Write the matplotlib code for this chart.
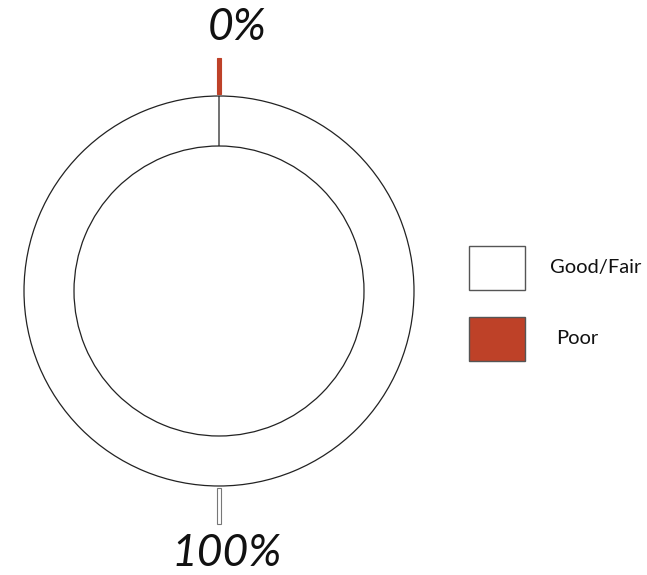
import numpy as np
import matplotlib
matplotlib.use("Agg")
import matplotlib.pyplot as plt
from matplotlib.patches import Polygon, Rectangle

# Condition shares (percent)
categories = ["Good/Fair", "Poor"]
values = [100, 0]
labels = ["100%", "0%"]
colors = ["#FFFFFF", "#BE4128"]

W, H = 647, 575
fig = plt.figure(figsize=(W / 100, H / 100), dpi=100)
ax = fig.add_axes([0, 0, 1, 1])

cx, cy = 219, 284
r_out, ring = 195, 50

wedges, _ = ax.pie(values, colors=colors, startangle=90, counterclock=False,
                   radius=r_out, center=(cx, cy),
                   wedgeprops=dict(width=ring, edgecolor="#222222", linewidth=0.9))
ax.set_xlim(0, W)
ax.set_ylim(0, H)
ax.set_aspect("equal")
ax.axis("off")

# Marker ticks and labels at each wedge's mid angle
tick_edges = ["#777777", "#BE4128"]
total = sum(values)
start = 90.0
for val, lab, col, ec in zip(values, labels, colors, tick_edges):
    sweep = 360.0 * val / total
    mid = np.deg2rad(start - sweep / 2.0) if val > 0 else np.deg2rad(start - 360.0)
    start -= sweep
    u = np.array([np.cos(mid), np.sin(mid)])
    n = np.array([-u[1], u[0]])
    r0, r1, hw = 197, 233, 2.0
    c = np.array([cx, cy])
    pts = [c + u * r0 + n * hw, c + u * r1 + n * hw, c + u * r1 - n * hw, c + u * r0 - n * hw]
    ax.add_patch(Polygon(pts, closed=True, facecolor=col, edgecolor=ec, linewidth=0.8))
    tp = c + u * 263
    ax.text(tp[0] + 13 + 5 * u[1], tp[1], lab, ha="center", va="center", fontsize=32,
            style="italic", family="Lato", color="#111111")

# Legend
leg_y = [307, 236]
leg_tx = [550, 556]
for cat, col, yy, tx in zip(categories, colors, leg_y, leg_tx):
    ax.add_patch(Rectangle((469, yy - 22), 56, 44, facecolor=col,
                           edgecolor="#555555", linewidth=1))
    ax.text(tx, yy, cat, ha="left", va="center", fontsize=14.5,
            family="Lato", color="#111111")

fig.savefig("out.png", dpi=100)
